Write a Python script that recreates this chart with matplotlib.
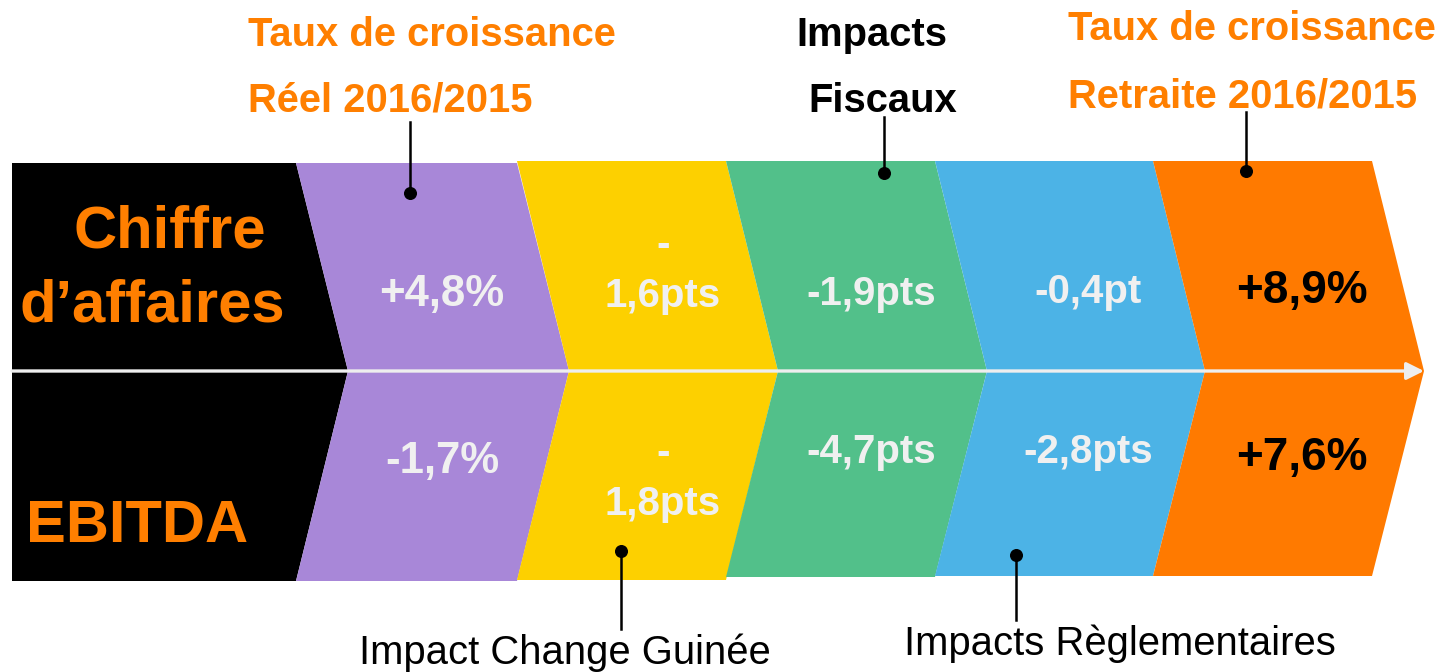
import matplotlib
matplotlib.use("Agg")
import matplotlib.pyplot as plt
from matplotlib.patches import Polygon, FancyArrowPatch

# ---------------- data ----------------
row_labels = ["Chiffre\nd\u2019affaires", "EBITDA"]
steps = ["Taux de croissance Réel 2016/2015", "Impact Change Guinée",
         "Impacts Fiscaux", "Impacts Règlementaires",
         "Taux de croissance Retraite 2016/2015"]
ca_values = ["+4,8%", "-\n1,6pts", "-1,9pts", "-0,4pt", "+8,9%"]
ebitda_values = ["-1,7%", "-\n1,8pts", "-4,7pts", "-2,8pts", "+7,6%"]
top_notes = [("Taux de croissance", "Réel 2016/2015"), ("Impacts", "Fiscaux"),
             ("Taux de croissance", "Retraite 2016/2015")]
bottom_notes = ["Impact Change Guinée", "Impacts Règlementaires"]

# ---------------- style / layout ----------------
ORANGE = "#FF7F00"
WHITE_TXT = "#F0F0F0"
col_colors = ["#000000", "#A887D8", "#FDD000", "#52C08A", "#4CB3E6", "#FF7A00"]
x_top = [12, 296, 517, 726, 935, 1153, 1372]
depth = 52
y_top = [163, 163, 161, 161, 161, 161]
y_bot = [581, 581, 580, 577, 576, 576]
y_mid = 371
text_x = [442, 663, 871, 1088, 1302]
val_colors = [WHITE_TXT, WHITE_TXT, WHITE_TXT, WHITE_TXT, "#000000"]
val_sizes = [31.5, 29, 29, 29, 33]
ca_base = [306, 307, 305, 303, 303]
eb_base = [473, 515, 463, 463, 470]
line_gap = 51

fig = plt.figure(figsize=(14.42, 6.72), dpi=100)
ax = fig.add_axes([0, 0, 1, 1])
ax.set_xlim(0, 1442)
ax.set_ylim(672, 0)
ax.axis("off")

# chevrons
for i, c in enumerate(col_colors):
    lt, rt = x_top[i], x_top[i + 1]
    t, b = y_top[i], y_bot[i]
    if i == 0:
        pts = [(lt, t), (rt, t), (rt + depth, y_mid), (rt, b), (lt, b)]
    else:
        pts = [(lt, t), (rt, t), (rt + depth, y_mid), (rt, b), (lt, b), (lt + depth, y_mid)]
    ax.add_patch(Polygon(pts, closed=True, facecolor=c, edgecolor="none", zorder=1))

# arrow line
arr = FancyArrowPatch((12, y_mid), (x_top[-1] + depth, y_mid),
                      arrowstyle="-|>,head_length=7,head_width=3.5",
                      color="#EEEEEE", lw=2.4, mutation_scale=1.5, zorder=3, shrinkA=0, shrinkB=0)
ax.add_patch(arr)

# row labels
ax.text(170, 248, "Chiffre", color=ORANGE, fontsize=43, fontweight="bold",
        family="Liberation Sans", ha="center", va="baseline", zorder=4)
ax.text(152, 322, "d\u2019affaires", color=ORANGE, fontsize=43, fontweight="bold",
        family="Liberation Sans", ha="center", va="baseline", zorder=4)
ax.text(137, 542, row_labels[1], color=ORANGE, fontsize=43, fontweight="bold",
        family="Liberation Sans", ha="center", va="baseline", zorder=4)

# values
def put_value(x, base, label, color, size):
    lines = label.split("\n")
    n = len(lines)
    for k, ln in enumerate(lines):
        yb = base - (n - 1 - k) * line_gap
        ax.text(x, yb, ln, color=color, fontsize=size, fontweight="bold",
                family="Liberation Sans", ha="center", va="baseline", zorder=4)

for i in range(5):
    put_value(text_x[i], ca_base[i], ca_values[i], val_colors[i], val_sizes[i])
    put_value(text_x[i], eb_base[i], ebitda_values[i], val_colors[i], val_sizes[i])

# top annotations
top_pos = [(248, 46, 112, ORANGE, "left"), (872, 46, 112, "#000000", "center"),
           (1068, 40, 107, ORANGE, "left")]
top_x2 = [248, 883, 1068]
for (l1, l2), (x, b1, b2, col, ha), x2 in zip(top_notes, top_pos, top_x2):
    ax.text(x, b1, l1, color=col, fontsize=28.8, fontweight="bold", family="Liberation Sans",
            ha=ha, va="baseline")
    ax.text(x2, b2, l2, color=col, fontsize=28.8, fontweight="bold", family="Liberation Sans",
            ha=ha, va="baseline")

# leader lines top
leaders_top = [(410, 122, 193), (884, 117, 173), (1246, 112, 171)]
for x, y0, y1 in leaders_top:
    ax.plot([x, x], [y0, y1], color="#000000", lw=1.8, zorder=5)
    ax.scatter([x], [y1], s=70, color="#000000", zorder=6)

# bottom annotations
leaders_bot = [(621, 551, 629), (1016, 555, 620)]
for x, y0, y1 in leaders_bot:
    ax.plot([x, x], [y0, y1], color="#000000", lw=1.8, zorder=5)
    ax.scatter([x], [y0], s=70, color="#000000", zorder=6)
ax.text(565, 664, bottom_notes[0], color="#000000", fontsize=28.8, family="Liberation Sans",
        ha="center", va="baseline")
ax.text(1120, 655, bottom_notes[1], color="#000000", fontsize=28.8, family="Liberation Sans",
        ha="center", va="baseline")

fig.savefig("out.png", dpi=100)
